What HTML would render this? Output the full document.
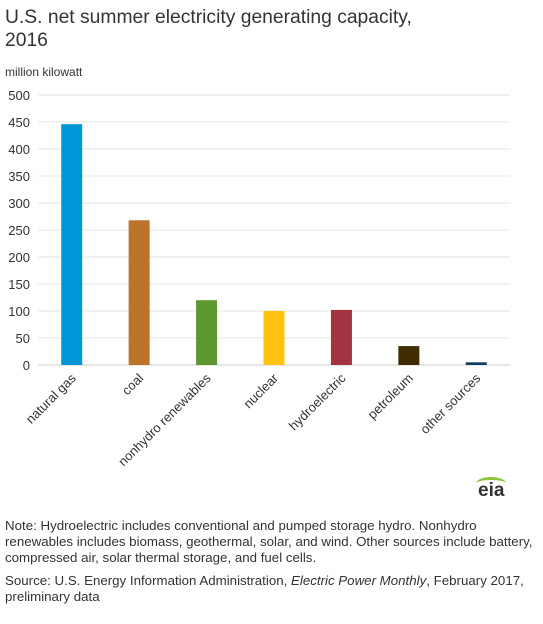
<!DOCTYPE html>
<html><head><meta charset="utf-8"><style>
body{margin:0;background:#fff;font-family:"Liberation Sans",Arial,sans-serif;color:#333}
#wrap{position:relative;width:543px;height:624px;overflow:hidden}
.t{position:absolute;left:5px;white-space:nowrap}
</style></head><body>
<div id="wrap">
<div class="t" style="top:6px;font-size:19.3px;line-height:23px;color:#333">U.S. net summer electricity generating capacity,<br>2016</div>
<div class="t" style="top:65px;font-size:12px;color:#333">million kilowatt</div>
<svg id="chart" width="543" height="480" style="position:absolute;left:0;top:0"></svg>
<div style="position:absolute;left:478px;top:480px;font-size:19px;font-weight:bold;color:#333;font-family:'Liberation Sans',sans-serif">eia<div style="position:absolute;left:-2px;top:-3px;width:30px;height:10px;border-top:3px solid #8cc63f;border-radius:50% 50% 0 0"></div></div>
<div class="t" style="top:518px;font-size:13.3px;line-height:16px">Note: Hydroelectric includes conventional and pumped storage hydro. Nonhydro<br>renewables includes biomass, geothermal, solar, and wind. Other sources include battery,<br>compressed air, solar thermal storage, and fuel cells.</div>
<div class="t" style="top:573px;font-size:13.3px;line-height:16px">Source: U.S. Energy Information Administration, <i>Electric Power Monthly</i>, February 2017,<br>preliminary data</div>
</div>
<script>
const categories=["natural gas","coal","nonhydro renewables","nuclear","hydroelectric","petroleum","other sources"];
const values=[446,268,120,100,102,35,5];
const colors=["#0096d7","#bd732a","#5d9732","#ffc20e","#a33340","#3f2c01","#0f3e5f"];
const yTicks=[0,50,100,150,200,250,300,350,400,450,500];
const svg=document.getElementById('chart');
const NS='http://www.w3.org/2000/svg';
const x0=38,x1=510,yBase=365,yTop=95,yMax=500;
const y=v=>yBase-(v/yMax)*(yBase-yTop);
const band=(x1-x0)/categories.length;
const xc=i=>x0+band*(i+0.5);
function mk(t,a){const e=document.createElementNS(NS,t);for(const k in a)e.setAttribute(k,a[k]);svg.appendChild(e);return e;}
yTicks.forEach(v=>{
 const l=mk('line',{x1:x0,x2:x1,y1:y(v),y2:y(v),stroke:v===0?'#ccc':'#e4e4e4','stroke-width':1});
 
 
 const t=mk('text',{x:30,y:y(v)+5,'text-anchor':'end','font-size':13,fill:'#333'});
 t.textContent=v;
 
 
});
categories.forEach((c,i)=>{
 const r=mk('rect',{x:xc(i)-10.5,y:y(values[i]),width:21,height:yBase-y(values[i]),fill:colors[i]});
 
 
 const cx=xc(i)+5,cy=379;
 const t=mk('text',{x:cx,y:cy,'text-anchor':'end','font-size':13,fill:'#333',transform:`rotate(-45 ${cx} ${cy})`});
 t.textContent=c;
 
 
});
</script>
</body></html>
